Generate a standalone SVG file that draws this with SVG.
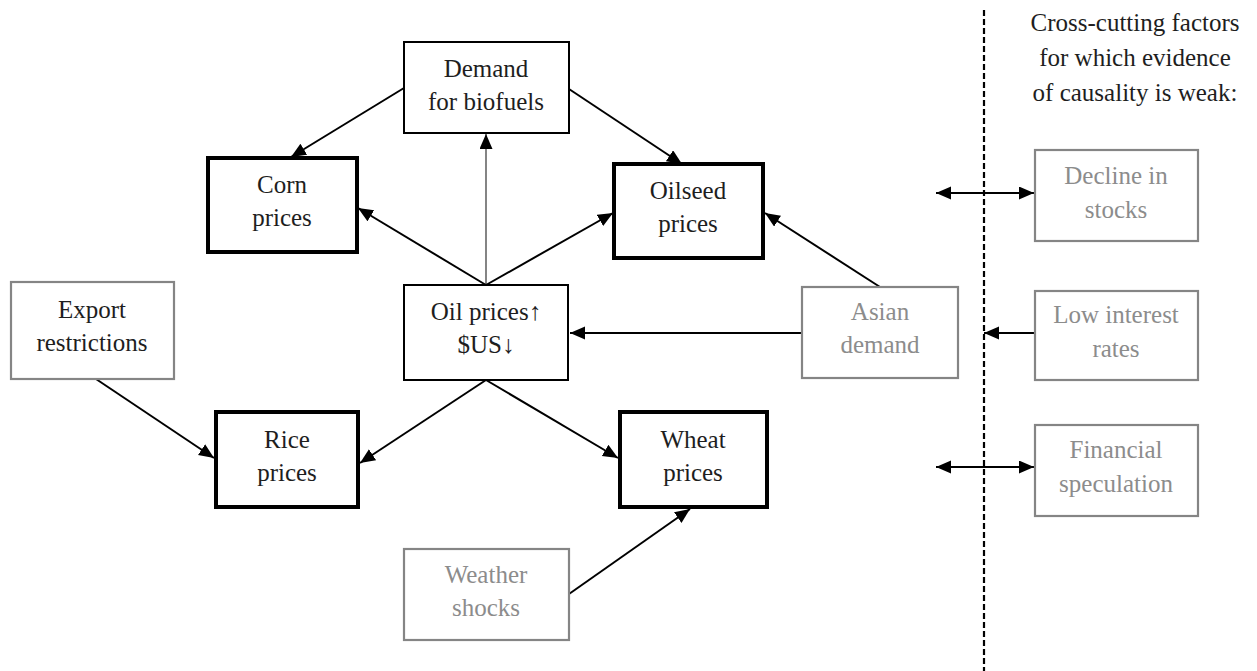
<svg xmlns="http://www.w3.org/2000/svg" width="1257" height="671" viewBox="0 0 1257 671">
<defs>
<marker id="ah" markerUnits="userSpaceOnUse" markerWidth="16" markerHeight="14" refX="15" refY="6.5" orient="auto-start-reverse">
<path d="M0,0 L15,6.5 L0,13 z" fill="#000"/>
</marker>
</defs>
<style>
text{font-family:"Liberation Serif","DejaVu Serif",serif;font-size:25px;text-anchor:middle}
.dk{fill:#1e1e1e}
.gy{fill:#8c8c8c}
.thin{fill:#fff;stroke:#000;stroke-width:2}
.thick{fill:#fff;stroke:#000;stroke-width:4}
.grey{fill:#fff;stroke:#858585;stroke-width:2.2}
.c{stroke:#000;stroke-width:2;fill:none;marker-end:url(#ah)}
</style>
<rect width="1257" height="671" fill="#fff"/>
<g id="connectors">
<line class="c" x1="404" y1="88" x2="291" y2="157"/>
<line class="c" x1="569" y1="89" x2="682" y2="164"/>
<line class="c" x1="486" y1="285" x2="486" y2="134" style="stroke:#666;stroke-width:1.6"/>
<line class="c" x1="486" y1="285" x2="358" y2="208"/>
<line class="c" x1="486" y1="285" x2="613" y2="213"/>
<line class="c" x1="802" y1="333" x2="570" y2="333"/>
<line class="c" x1="880" y1="287" x2="765" y2="213"/>
<line class="c" x1="96" y1="379" x2="214" y2="458"/>
<line class="c" x1="486" y1="380" x2="360" y2="463"/>
<line class="c" x1="486" y1="380" x2="618" y2="458"/>
<line class="c" x1="569" y1="594" x2="690" y2="509"/>
<line class="c" x1="936" y1="193" x2="1034" y2="193" style="marker-start:url(#ah)"/>
<line class="c" x1="1035" y1="333" x2="984" y2="333"/>
<line class="c" x1="936" y1="467" x2="1034" y2="467" style="marker-start:url(#ah)"/>
<line x1="984" y1="10" x2="984" y2="671" stroke="#000" stroke-width="2.2" stroke-dasharray="6 3"/>
</g>
<g id="demand">
<rect class="thin" x="404" y="42" width="165" height="91"/>
<text class="dk" x="486" y="77">Demand</text>
<text class="dk" x="486" y="110">for biofuels</text>
</g>
<g id="corn">
<rect class="thick" x="208" y="158" width="149" height="94"/>
<text class="dk" x="282" y="193">Corn</text>
<text class="dk" x="282" y="226">prices</text>
</g>
<g id="oilseed">
<rect class="thick" x="614" y="164" width="149" height="94"/>
<text class="dk" x="688" y="199">Oilseed</text>
<text class="dk" x="688" y="232">prices</text>
</g>
<g id="oil">
<rect class="thin" x="404" y="285" width="164" height="95"/>
<text class="dk" x="486" y="320">Oil prices↑</text>
<text class="dk" x="486" y="353">$US↓</text>
</g>
<g id="export">
<rect class="grey" x="11" y="282" width="163" height="97"/>
<text class="dk" x="92" y="318">Export</text>
<text class="dk" x="92" y="351">restrictions</text>
</g>
<g id="asian">
<rect class="grey" x="802" y="287" width="156" height="91"/>
<text class="gy" x="880" y="320">Asian</text>
<text class="gy" x="880" y="353">demand</text>
</g>
<g id="rice">
<rect class="thick" x="216" y="412" width="142" height="95"/>
<text class="dk" x="287" y="448">Rice</text>
<text class="dk" x="287" y="481">prices</text>
</g>
<g id="wheat">
<rect class="thick" x="620" y="412" width="147" height="95"/>
<text class="dk" x="693" y="448">Wheat</text>
<text class="dk" x="693" y="481">prices</text>
</g>
<g id="weather">
<rect class="grey" x="404" y="549" width="165" height="91"/>
<text class="gy" x="486" y="583">Weather</text>
<text class="gy" x="486" y="616">shocks</text>
</g>
<g id="header">
<text class="dk" x="1135" y="31">Cross-cutting factors</text>
<text class="dk" x="1135" y="66">for which evidence</text>
<text class="dk" x="1135" y="101">of causality is weak:</text>
</g>
<g id="decline">
<rect class="grey" x="1035" y="150" width="163" height="91"/>
<text class="gy" x="1116" y="184">Decline in</text>
<text class="gy" x="1116" y="218">stocks</text>
</g>
<g id="interest">
<rect class="grey" x="1035" y="291" width="163" height="89"/>
<text class="gy" x="1116" y="323">Low interest</text>
<text class="gy" x="1116" y="357">rates</text>
</g>
<g id="speculation">
<rect class="grey" x="1035" y="425" width="163" height="91"/>
<text class="gy" x="1116" y="458">Financial</text>
<text class="gy" x="1116" y="492">speculation</text>
</g>
</svg>
